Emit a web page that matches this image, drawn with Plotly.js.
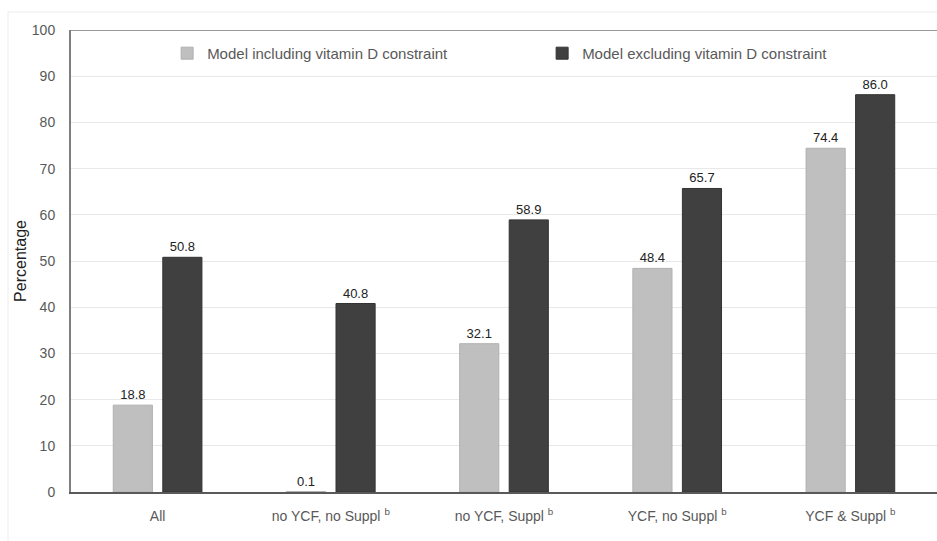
<!DOCTYPE html>
<html>
<head>
<meta charset="utf-8">
<script src="https://cdn.plot.ly/plotly-3.0.1.min.js"></script>
<style>html,body{margin:0;padding:0;background:#fff;}#chart{width:937px;height:541px;}</style>
</head>
<body>
<div id="chart"></div>
<script>
const categories = ["All", "no YCF, no Suppl <sup>b</sup>", "no YCF, Suppl <sup>b</sup>", "YCF, no Suppl <sup>b</sup>", "YCF &amp; Suppl <sup>b</sup>"];
const withVitD = [18.8, 0.1, 32.1, 48.4, 74.4];
const withoutVitD = [50.8, 40.8, 58.9, 65.7, 86.0];
const seriesNames = ["Model including vitamin D constraint", "Model excluding vitamin D constraint"];
const yTicks = [0, 10, 20, 30, 40, 50, 60, 70, 80, 90, 100];

const fontFam = "'Liberation Sans', Arial, sans-serif";

const traces = [
  {type: 'bar', x: categories, y: withVitD, name: seriesNames[0],
   marker: {color: '#bfbfbf', line: {color: '#b0b0b0', width: 1}},
   text: withVitD.map(v => v.toFixed(1)), textposition: 'outside', cliponaxis: false,
   textfont: {family: fontFam, size: 13, color: '#222'}},
  {type: 'bar', x: categories, y: withoutVitD, name: seriesNames[1],
   marker: {color: '#404040', line: {color: '#333333', width: 1}},
   text: withoutVitD.map(v => v.toFixed(1)), textposition: 'outside', cliponaxis: false,
   textfont: {family: fontFam, size: 13, color: '#222'}}
];

const layout = {
  width: 937, height: 541,
  margin: {l: 71, r: 0, t: 30, b: 49},
  paper_bgcolor: '#fff', plot_bgcolor: '#fff',
  font: {family: fontFam, color: '#595959', size: 15},
  barmode: 'group', bargap: 0.428, bargroupgap: 0.21,
  showlegend: true,
  legend: {orientation: 'h', x: 0.111, y: 0.985, xanchor: 'left', yanchor: 'top',
           font: {family: fontFam, size: 15, color: '#595959'},
           entrywidth: 330, entrywidthmode: 'pixels', bgcolor: 'rgba(0,0,0,0)'},
  xaxis: {showgrid: false, showline: true, linecolor: '#595959', linewidth: 2,
          tickfont: {family: fontFam, size: 14, color: '#595959'}, ticks: '', ticklabelstandoff: 10},
  yaxis: {range: [0, 100], tickvals: yTicks, showgrid: true, gridcolor: '#e8e8e8', gridwidth: 1,
          showline: true, linecolor: '#7f7f7f', linewidth: 2, zeroline: false, automargin: true,
          tickfont: {family: fontFam, size: 14, color: '#595959'}, ticks: '', ticklabelstandoff: 11,
          title: {text: 'Percentage', font: {family: fontFam, size: 16, color: '#222'}, standoff: 1}},
  shapes: [
    {type: 'line', xref: 'paper', yref: 'y', x0: 0, x1: 1, y0: 100, y1: 100,
     line: {color: '#999999', width: 2}},
    {type: 'line', xref: 'paper', yref: 'paper', x0: -0.0727, x1: 1.0, y0: 1.039, y1: 1.039,
     line: {color: '#ececec', width: 1}},
    {type: 'line', xref: 'paper', yref: 'paper', x0: -0.0727, x1: -0.0727, y0: 1.039, y1: -0.11,
     line: {color: '#ececec', width: 1}}
  ]
};

Plotly.newPlot('chart', traces, layout, {displayModeBar: false, staticPlot: true});
</script>
</body>
</html>
